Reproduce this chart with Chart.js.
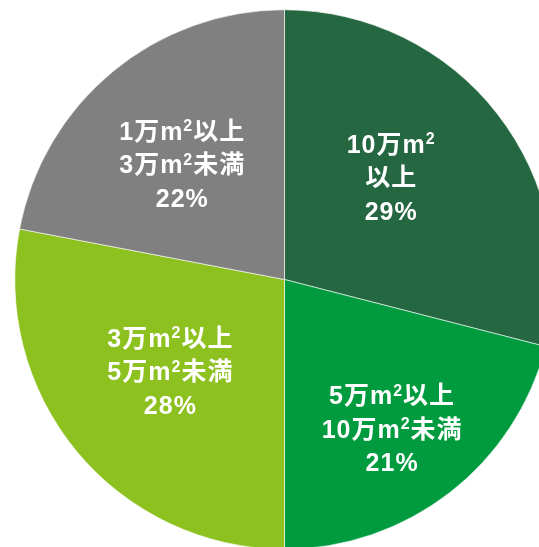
<!DOCTYPE html>
<html lang="ja">
<head>
<meta charset="utf-8">
<title>規模別構成比</title>
<script src="https://cdn.jsdelivr.net/npm/chart.js@4/dist/chart.umd.min.js"></script>
<style>
  html, body { margin: 0; padding: 0; background: #ffffff; overflow: hidden; width: 539px; height: 547px; }
  #wrap { position: absolute; left: 0; top: 0; width: 570px; height: 560px; }
</style>
</head>
<body>
<div id="wrap"><canvas id="pie" width="570" height="560"></canvas></div>
<script>
// Size classes (each entry is the label's lines) and their shares in %
const categories = [
  ["10万m²", "以上"],
  ["5万m²以上", "10万m²未満"],
  ["3万m²以上", "5万m²未満"],
  ["1万m²以上", "3万m²未満"]
];
const shares = [29, 21, 28, 22];

// Slice fills
const sliceColors = ["#246741", "#009b3e", "#8dc11f", "#808080"];
// Label placement inside each slice: fraction of radius, angular nudge in degrees
const labelRadius = [0.548, 0.682, 0.543, 0.571];
const labelNudge = [-6, 2, 0.8, -2];

const fontFamily = '"Liberation Sans", "Noto Sans CJK JP", sans-serif';
const mainSize = 25;
const supSize = 16;
const lineGap = 33.5;

// Split a line so that "²" is drawn as a raised, smaller "2"
function segments(text) {
  const out = [];
  let buf = "";
  for (const ch of text) {
    if (ch === "²") {
      if (buf) out.push({ t: buf, sup: false });
      out.push({ t: "2", sup: true });
      buf = "";
    } else {
      buf += ch;
    }
  }
  if (buf) out.push({ t: buf, sup: false });
  return out;
}

function drawLine(ctx, text, cx, cy) {
  const segs = segments(text);
  const mainFont = "bold " + mainSize + "px " + fontFamily;
  const supFont = "bold " + supSize + "px " + fontFamily;
  let total = 0;
  segs.forEach(s => {
    ctx.font = s.sup ? supFont : mainFont;
    s.w = ctx.measureText(s.t).width;
    total += s.w;
  });
  let x = cx - total / 2;
  const base = cy + mainSize * 0.36;
  segs.forEach(s => {
    ctx.font = s.sup ? supFont : mainFont;
    ctx.fillText(s.t, x, s.sup ? base - mainSize * 0.34 : base);
    x += s.w;
  });
}

const sliceLabels = {
  id: "sliceLabels",
  afterDatasetsDraw(chart) {
    const ctx = chart.ctx;
    const meta = chart.getDatasetMeta(0);
    const values = chart.data.datasets[0].data;
    ctx.save();
    ctx.fillStyle = "#ffffff";
    ctx.textAlign = "left";
    ctx.textBaseline = "alphabetic";
    if ("letterSpacing" in ctx) ctx.letterSpacing = "1px";
    meta.data.forEach((arc, i) => {
      const p = arc.getProps(["x", "y", "startAngle", "endAngle", "outerRadius"], true);
      const mid = (p.startAngle + p.endAngle) / 2 + labelNudge[i] * Math.PI / 180;
      const r = p.outerRadius * labelRadius[i];
      const cx = p.x + Math.cos(mid) * r;
      const cy = p.y + Math.sin(mid) * r;
      const lines = chart.data.labels[i].concat([values[i] + "%"]);
      const top = cy - (lines.length - 1) * lineGap / 2;
      lines.forEach((t, k) => drawLine(ctx, t, cx, top + k * lineGap));
    });
    ctx.restore();
  }
};

new Chart(document.getElementById("pie"), {
  type: "pie",
  data: {
    labels: categories,
    datasets: [{
      data: shares,
      backgroundColor: sliceColors,
      borderColor: "#ffffff",
      borderWidth: 0.6,
      hoverOffset: 0
    }]
  },
  options: {
    responsive: false,
    animation: false,
    layout: { padding: { left: 14.5, top: 9.5, right: 15.5, bottom: 10.5 } },
    plugins: {
      legend: { display: false },
      tooltip: { enabled: false }
    }
  },
  plugins: [sliceLabels]
});
</script>
</body>
</html>
